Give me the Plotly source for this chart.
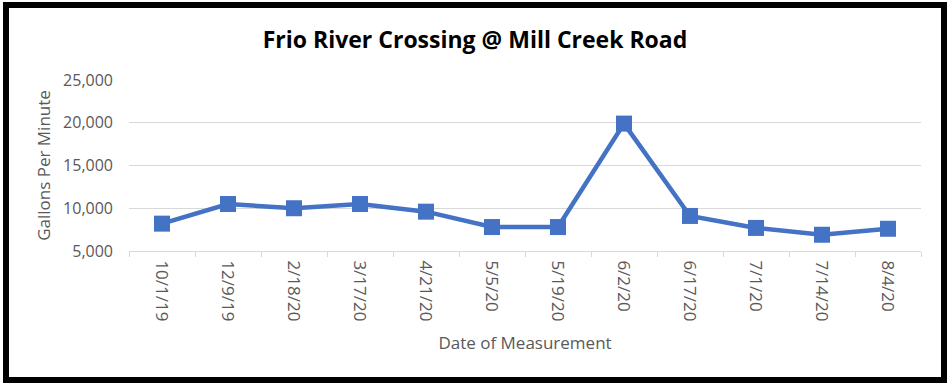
import plotly.graph_objects as go

dates = ["10/1/19", "12/9/19", "2/18/20", "3/17/20", "4/21/20", "5/5/20",
         "5/19/20", "6/2/20", "6/17/20", "7/1/20", "7/14/20", "8/4/20"]
gpm = [8200, 10500, 10000, 10500, 9600, 7800, 7800, 19900, 9100, 7700, 6900, 7600]

W, H = 950, 386
L, R, T, B = 129, 29, 80, 135
pw, ph = W - L - R, H - T - B

def px(x):
    return (x - L) / pw

def py(y):
    return (H - B - y) / ph

fig = go.Figure(go.Scatter(
    x=dates, y=gpm, mode="lines+markers",
    line=dict(color="#4472C4", width=4.5),
    marker=dict(symbol="square", size=16, color="#4472C4"),
    cliponaxis=False,
))

fig.update_layout(
    width=W, height=H,
    margin=dict(l=L, r=R, t=T, b=B, autoexpand=False),
    paper_bgcolor="white", plot_bgcolor="white",
    showlegend=False,
    title=dict(text="<b>Frio River Crossing @ Mill Creek Road</b>",
               x=0.5, xanchor="center", y=1 - 40 / H, yanchor="middle",
               font=dict(family="Open Sans", size=23, color="black")),
    font=dict(family="Open Sans", color="#595959"),
    xaxis=dict(
        type="category", automargin=False,
        range=[-0.5, len(dates) - 0.5],
        tickangle=90,
        tickfont=dict(size=17, color="#595959"),
        ticklabelstandoff=5,
        showline=True, linecolor="#D9D9D9", linewidth=1,
        ticks="outside", tickson="boundaries", ticklen=5, tickcolor="#D9D9D9",
        showgrid=False,
        title=dict(text="Date of Measurement", font=dict(size=17, color="#595959"), standoff=16),
    ),
    yaxis=dict(
        range=[5000, 25000], automargin=False,
        tickvals=[5000, 10000, 15000, 20000, 25000],
        tickformat=",",
        tickfont=dict(size=16, color="#595959"),
        showgrid=True, gridcolor="#D9D9D9", gridwidth=1,
        zeroline=False, showline=False,
        ticklabelstandoff=15,
        title=dict(text="Gallons Per Minute", font=dict(size=17, color="#595959"), standoff=8),
    ),
    shapes=[dict(type="rect", xref="paper", yref="paper",
                 x0=px(6), x1=px(944), y0=py(380), y1=py(5),
                 line=dict(color="black", width=6), fillcolor="rgba(0,0,0,0)",
                 layer="above")],
)

fig.write_html("out.html", config={"displayModeBar": False},
               post_script="document.body.style.margin='0';")
